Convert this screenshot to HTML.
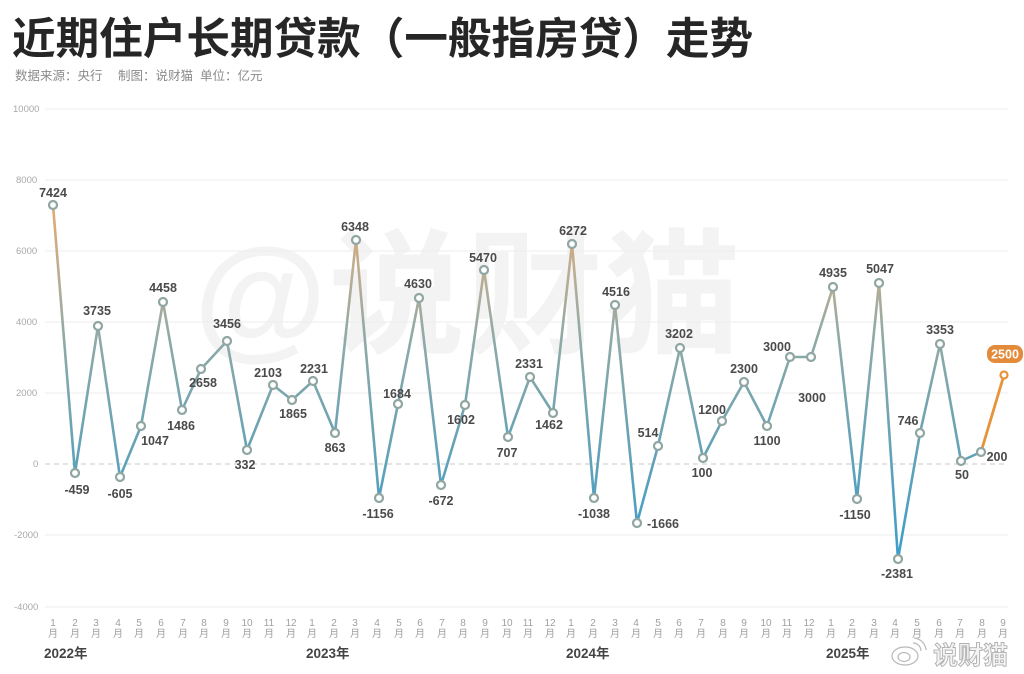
<!DOCTYPE html>
<html><head><meta charset="utf-8">
<style>
html,body{margin:0;padding:0;background:#fff;}
body{width:1024px;height:674px;overflow:hidden;position:relative;}
svg{position:absolute;left:0;top:0;}
</style></head>
<body>
<svg width="1024" height="674" viewBox="0 0 1024 674" xmlns="http://www.w3.org/2000/svg">
<defs>
<linearGradient id="lg" gradientUnits="userSpaceOnUse" x1="0" y1="200" x2="0" y2="560">
<stop offset="0" stop-color="#e6a86a"/>
<stop offset="0.18" stop-color="#c2ad90"/>
<stop offset="0.38" stop-color="#90aaa6"/>
<stop offset="0.65" stop-color="#6aa3b4"/>
<stop offset="1" stop-color="#3c9dcc"/>
</linearGradient>
</defs>
<rect width="1024" height="674" fill="#fff"/>
<!-- title -->
<text x="12" y="54" font-family="'Liberation Sans','Noto Sans CJK SC',sans-serif" font-weight="bold" font-size="43.6" fill="#262626">近期住户长期贷款（一般指房贷）走势</text>
<g font-family="'Liberation Sans','Noto Sans CJK SC',sans-serif" font-size="12.5" fill="#8a8a8a">
<text x="15" y="80">数据来源：央行</text>
<text x="118" y="80">制图：说财猫</text>
<text x="200" y="80">单位：亿元</text>
</g>
<!-- watermark -->
<text x="194" y="343" font-family="'Liberation Sans','Noto Sans CJK SC',sans-serif" font-weight="bold" font-size="136" fill="#f3f3f3" letter-spacing="2">@说财猫</text>
<!-- grid -->
<g stroke="#eeeeee" stroke-width="1">
<line x1="45" y1="109" x2="1008" y2="109"/>
<line x1="45" y1="180" x2="1008" y2="180"/>
<line x1="45" y1="251" x2="1008" y2="251"/>
<line x1="45" y1="322" x2="1008" y2="322"/>
<line x1="45" y1="393" x2="1008" y2="393"/>
<line x1="45" y1="535" x2="1008" y2="535"/>
<line x1="45" y1="607" x2="1008" y2="607"/>
</g>
<line x1="45" y1="464" x2="1008" y2="464" stroke="#c8c8c8" stroke-width="1" stroke-dasharray="5,4"/>
<g font-family="'Liberation Sans',sans-serif" font-size="9.5" fill="#a8a8a8">
<text x="13" y="112">10000</text>
<text x="16" y="183">8000</text>
<text x="16" y="254">6000</text>
<text x="16" y="325">4000</text>
<text x="16" y="396">2000</text>
<text x="33" y="467">0</text>
<text x="14" y="538">-2000</text>
<text x="14" y="610">-4000</text>
</g>
<!-- line -->
<polyline fill="none" stroke="url(#lg)" stroke-width="2.6" stroke-linejoin="round" points="53,205 75,473 98,326 120,477 141,426 163,302 182,410 201,369 227,341 247,450 273,385 292,400 313,381 335,433 356,240 379,498 398,404 419,298 441,485 465,405 484,270 508,437 530,377 553,413 572,244 594,498 615,305 637,523 658,446 680,348 703,458 722,421 744,382 767,426 790,357 811,357 833,287 857,499 879,283 898,559 920,433 940,344 961,461 981,452"/>
<line x1="981" y1="452" x2="1004" y2="375" stroke="#e8933c" stroke-width="2.8"/>
<g fill="#fff" stroke="#8fa6a2" stroke-width="2.2">
<circle cx="53" cy="205" r="4"/><circle cx="75" cy="473" r="4"/><circle cx="98" cy="326" r="4"/><circle cx="120" cy="477" r="4"/><circle cx="141" cy="426" r="4"/><circle cx="163" cy="302" r="4"/><circle cx="182" cy="410" r="4"/><circle cx="201" cy="369" r="4"/><circle cx="227" cy="341" r="4"/><circle cx="247" cy="450" r="4"/><circle cx="273" cy="385" r="4"/><circle cx="292" cy="400" r="4"/><circle cx="313" cy="381" r="4"/><circle cx="335" cy="433" r="4"/><circle cx="356" cy="240" r="4"/><circle cx="379" cy="498" r="4"/><circle cx="398" cy="404" r="4"/><circle cx="419" cy="298" r="4"/><circle cx="441" cy="485" r="4"/><circle cx="465" cy="405" r="4"/><circle cx="484" cy="270" r="4"/><circle cx="508" cy="437" r="4"/><circle cx="530" cy="377" r="4"/><circle cx="553" cy="413" r="4"/><circle cx="572" cy="244" r="4"/><circle cx="594" cy="498" r="4"/><circle cx="615" cy="305" r="4"/><circle cx="637" cy="523" r="4"/><circle cx="658" cy="446" r="4"/><circle cx="680" cy="348" r="4"/><circle cx="703" cy="458" r="4"/><circle cx="722" cy="421" r="4"/><circle cx="744" cy="382" r="4"/><circle cx="767" cy="426" r="4"/><circle cx="790" cy="357" r="4"/><circle cx="811" cy="357" r="4"/><circle cx="833" cy="287" r="4"/><circle cx="857" cy="499" r="4"/><circle cx="879" cy="283" r="4"/><circle cx="898" cy="559" r="4"/><circle cx="920" cy="433" r="4"/><circle cx="940" cy="344" r="4"/><circle cx="961" cy="461" r="4"/><circle cx="981" cy="452" r="4"/>
</g>
<circle cx="1004" cy="375" r="3.5" fill="#fff" stroke="#e8933c" stroke-width="2.2"/>
<!-- labels -->
<g font-family="'Liberation Sans',sans-serif" font-size="12.5" font-weight="bold" fill="#4a4a4a" text-anchor="middle">
<text x="53" y="197">7424</text>
<text x="77" y="494">-459</text>
<text x="97" y="315">3735</text>
<text x="120" y="498">-605</text>
<text x="155" y="445">1047</text>
<text x="163" y="292">4458</text>
<text x="181" y="430">1486</text>
<text x="203" y="387">2658</text>
<text x="227" y="328">3456</text>
<text x="245" y="469">332</text>
<text x="268" y="377">2103</text>
<text x="293" y="418">1865</text>
<text x="314" y="373">2231</text>
<text x="335" y="452">863</text>
<text x="355" y="231">6348</text>
<text x="378" y="518">-1156</text>
<text x="397" y="398">1684</text>
<text x="418" y="288">4630</text>
<text x="441" y="505">-672</text>
<text x="461" y="424">1602</text>
<text x="483" y="262">5470</text>
<text x="507" y="457">707</text>
<text x="529" y="368">2331</text>
<text x="549" y="429">1462</text>
<text x="573" y="235">6272</text>
<text x="594" y="518">-1038</text>
<text x="616" y="296">4516</text>
<text x="663" y="528">-1666</text>
<text x="648" y="437">514</text>
<text x="679" y="338">3202</text>
<text x="702" y="477">100</text>
<text x="712" y="414">1200</text>
<text x="744" y="373">2300</text>
<text x="767" y="445">1100</text>
<text x="777" y="351">3000</text>
<text x="812" y="402">3000</text>
<text x="833" y="277">4935</text>
<text x="855" y="519">-1150</text>
<text x="880" y="273">5047</text>
<text x="897" y="578">-2381</text>
<text x="908" y="425">746</text>
<text x="940" y="334">3353</text>
<text x="962" y="479">50</text>
<text x="997" y="461">200</text>
</g>
<rect x="987" y="345" width="36" height="18" rx="8" fill="#e38b3a"/>
<text x="1005" y="358.5" font-family="'Liberation Sans',sans-serif" font-size="12.5" font-weight="bold" fill="#fff" text-anchor="middle">2500</text>
<!-- x axis -->
<g font-family="'Liberation Sans','Noto Sans CJK SC',sans-serif" font-size="10" fill="#a0a0a0" text-anchor="middle">
<text x="53" y="626">1</text><text x="53" y="637">月</text>
<text x="75" y="626">2</text><text x="75" y="637">月</text>
<text x="96" y="626">3</text><text x="96" y="637">月</text>
<text x="118" y="626">4</text><text x="118" y="637">月</text>
<text x="139" y="626">5</text><text x="139" y="637">月</text>
<text x="161" y="626">6</text><text x="161" y="637">月</text>
<text x="183" y="626">7</text><text x="183" y="637">月</text>
<text x="204" y="626">8</text><text x="204" y="637">月</text>
<text x="226" y="626">9</text><text x="226" y="637">月</text>
<text x="247" y="626">10</text><text x="247" y="637">月</text>
<text x="269" y="626">11</text><text x="269" y="637">月</text>
<text x="291" y="626">12</text><text x="291" y="637">月</text>
<text x="312" y="626">1</text><text x="312" y="637">月</text>
<text x="334" y="626">2</text><text x="334" y="637">月</text>
<text x="355" y="626">3</text><text x="355" y="637">月</text>
<text x="377" y="626">4</text><text x="377" y="637">月</text>
<text x="399" y="626">5</text><text x="399" y="637">月</text>
<text x="420" y="626">6</text><text x="420" y="637">月</text>
<text x="442" y="626">7</text><text x="442" y="637">月</text>
<text x="463" y="626">8</text><text x="463" y="637">月</text>
<text x="485" y="626">9</text><text x="485" y="637">月</text>
<text x="507" y="626">10</text><text x="507" y="637">月</text>
<text x="528" y="626">11</text><text x="528" y="637">月</text>
<text x="550" y="626">12</text><text x="550" y="637">月</text>
<text x="571" y="626">1</text><text x="571" y="637">月</text>
<text x="593" y="626">2</text><text x="593" y="637">月</text>
<text x="615" y="626">3</text><text x="615" y="637">月</text>
<text x="636" y="626">4</text><text x="636" y="637">月</text>
<text x="658" y="626">5</text><text x="658" y="637">月</text>
<text x="679" y="626">6</text><text x="679" y="637">月</text>
<text x="701" y="626">7</text><text x="701" y="637">月</text>
<text x="723" y="626">8</text><text x="723" y="637">月</text>
<text x="744" y="626">9</text><text x="744" y="637">月</text>
<text x="766" y="626">10</text><text x="766" y="637">月</text>
<text x="787" y="626">11</text><text x="787" y="637">月</text>
<text x="809" y="626">12</text><text x="809" y="637">月</text>
<text x="831" y="626">1</text><text x="831" y="637">月</text>
<text x="852" y="626">2</text><text x="852" y="637">月</text>
<text x="874" y="626">3</text><text x="874" y="637">月</text>
<text x="895" y="626">4</text><text x="895" y="637">月</text>
<text x="917" y="626">5</text><text x="917" y="637">月</text>
<text x="939" y="626">6</text><text x="939" y="637">月</text>
<text x="960" y="626">7</text><text x="960" y="637">月</text>
<text x="982" y="626">8</text><text x="982" y="637">月</text>
<text x="1003" y="626">9</text><text x="1003" y="637">月</text>
</g>
<g font-family="'Liberation Sans','Noto Sans CJK SC',sans-serif" font-size="13.5" font-weight="bold" fill="#444">
<text x="44" y="658">2022年</text>
<text x="306" y="658">2023年</text>
<text x="566" y="658">2024年</text>
<text x="826" y="658">2025年</text>
</g>
<!-- bottom right watermark -->
<g fill="none" stroke="#b8b8b8" stroke-width="1.2">
<ellipse cx="905" cy="656" rx="13" ry="9"/>
<ellipse cx="904" cy="657" rx="6" ry="4.5"/>
<path d="M913,643 a8,8 0 0 1 8,8"/>
<path d="M914,638 a13,13 0 0 1 12,12"/>
</g>
<text x="933" y="664" font-family="'Liberation Sans','Noto Sans CJK SC',sans-serif" font-size="25" font-weight="bold" fill="#f4f4f4" stroke="#b0b0b0" stroke-width="0.9">说财猫</text>
</svg>
</body></html>
